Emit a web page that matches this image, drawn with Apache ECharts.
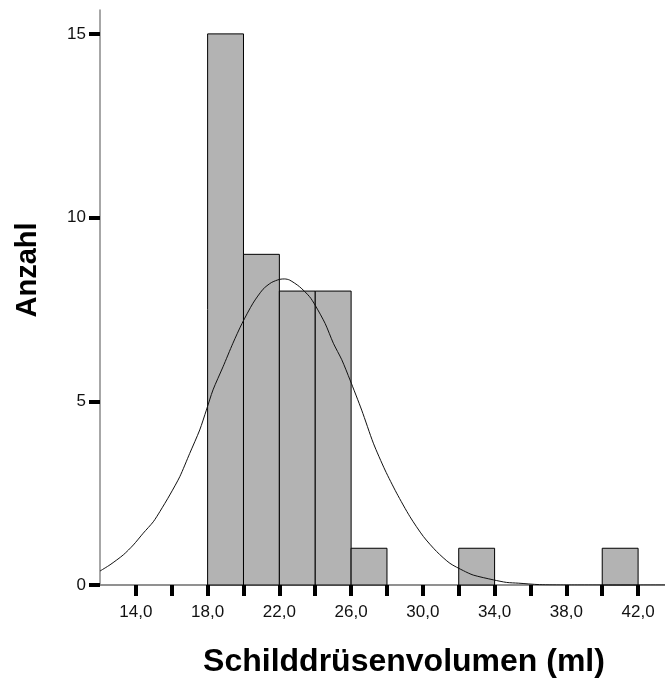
<!DOCTYPE html>
<html>
<head>
<meta charset="utf-8">
<script src="https://cdn.jsdelivr.net/npm/echarts@6/dist/echarts.min.js"></script>
<style>
  html, body { margin: 0; padding: 0; background: #fff; }
  #container { width: 665px; height: 678px; }
</style>
</head>
<body>
<div id="container"></div>
<script>
// histogram bins (start of bin, width 2 ml)
var binStarts = [18, 20, 22, 24, 26, 32, 40];
var counts = [15, 9, 8, 8, 1, 1, 1];
var binWidth = 2;

// normal curve
var curveX = [12.0, 12.56, 13.3, 13.86, 14.41, 14.97, 15.34, 15.89, 16.45, 17.0, 17.56, 17.93, 18.3, 18.86, 19.41, 19.92, 20.53, 21.09, 21.55, 22.02, 22.3, 22.57, 23.12, 23.68, 23.99, 24.55, 25.01, 25.48, 25.94, 26.59, 27.24, 27.89, 28.54, 29.28, 30.03, 30.77, 31.51, 32.26, 32.81, 33.93, 34.67, 35.32, 36.5, 38.0, 43.5];
var curveY = [0.38, 0.55, 0.82, 1.09, 1.41, 1.72, 2.0, 2.45, 2.95, 3.58, 4.22, 4.76, 5.31, 5.94, 6.58, 7.12, 7.67, 8.05, 8.23, 8.32, 8.33, 8.3, 8.12, 7.85, 7.62, 7.12, 6.58, 6.13, 5.58, 4.76, 3.86, 3.13, 2.5, 1.86, 1.32, 0.91, 0.59, 0.39, 0.27, 0.14, 0.07, 0.05, 0.01, 0, 0];

// axis ticks / labels
var xTicks = [14, 16, 18, 20, 22, 24, 26, 28, 30, 32, 34, 36, 38, 40, 42];
var xLabels = [14, 18, 22, 26, 30, 34, 38, 42];
var yTicks = [0, 5, 10, 15];

var font = "'Liberation Sans', Arial, Helvetica, sans-serif";

var dom = document.getElementById("container");
var myChart = echarts.init(dom);

var bars = [];
for (var i = 0; i < binStarts.length; i++) {
  bars.push([binStarts[i], binStarts[i] + binWidth, counts[i]]);
}
var curve = [];
for (var j = 0; j < curveX.length; j++) {
  curve.push([curveX[j], curveY[j]]);
}

var option = {
  animation: false,
  grid: {
    left: 100,
    right: 0,
    top: 10,
    bottom: 93,
    outerBoundsMode: "none"
  },
  xAxis: [
    {
      type: "value",
      min: 12,
      max: 43.5,
      splitLine: { show: false },
      axisLine: { onZero: false, lineStyle: { color: "#8a8a8a", width: 1.5 } },
      axisTick: {
        customValues: xTicks,
        length: 11,
        lineStyle: { color: "#000", width: 4 }
      },
      axisLabel: {
        customValues: xLabels,
        margin: 19,
        fontSize: 17,
        fontFamily: font,
        color: "#111",
        formatter: function (v) {
          return v.toFixed(1).replace(".", ",");
        }
      },
      name: "Schilddrüsenvolumen (ml)",
      nameLocation: "middle",
      nameGap: 61,
      nameTextStyle: {
        fontSize: 32,
        fontWeight: "bold",
        fontFamily: font,
        color: "#000",
        padding: [0, 0, 0, 43]
      }
    },
    {
      type: "value",
      position: "top",
      min: 12,
      max: 43.5,
      splitLine: { show: false },
      axisLine: { show: true, lineStyle: { color: "#8a8a8a", width: 1.5 } },
      axisTick: { show: false },
      axisLabel: { show: false }
    }
  ],
  yAxis: {
    type: "value",
    min: 0,
    max: 15.65,
    splitLine: { show: false },
    axisLine: { show: true, lineStyle: { color: "#8a8a8a", width: 1.5 } },
    axisTick: {
      show: true,
      customValues: yTicks,
      length: 11,
      lineStyle: { color: "#000", width: 4 }
    },
    axisLabel: {
      customValues: yTicks,
      margin: 14,
      fontSize: 17,
      fontFamily: font,
      color: "#111"
    },
    name: "Anzahl",
    nameLocation: "middle",
    nameRotate: 90,
    nameGap: 58,
    nameTextStyle: {
      fontSize: 29,
      fontWeight: "bold",
      fontFamily: font,
      color: "#000",
      padding: [0, 0, 0, 55]
    }
  },
  series: [
    {
      type: "custom",
      name: "Anzahl",
      renderItem: function (params, api) {
        var p0 = api.coord([api.value(0), api.value(2)]);
        var p1 = api.coord([api.value(1), 0]);
        return {
          type: "rect",
          shape: { x: p0[0], y: p0[1], width: p1[0] - p0[0], height: p1[1] - p0[1] },
          style: { fill: "#b3b3b3", stroke: "#000", lineWidth: 1 }
        };
      },
      encode: { x: [0, 1], y: 2 },
      data: bars,
      z: 2
    },
    {
      type: "line",
      name: "Normal",
      data: curve,
      smooth: 0.25,
      showSymbol: false,
      lineStyle: { color: "#111", width: 1 },
      z: 3
    }
  ]
};

myChart.setOption(option, true);
</script>
</body>
</html>
